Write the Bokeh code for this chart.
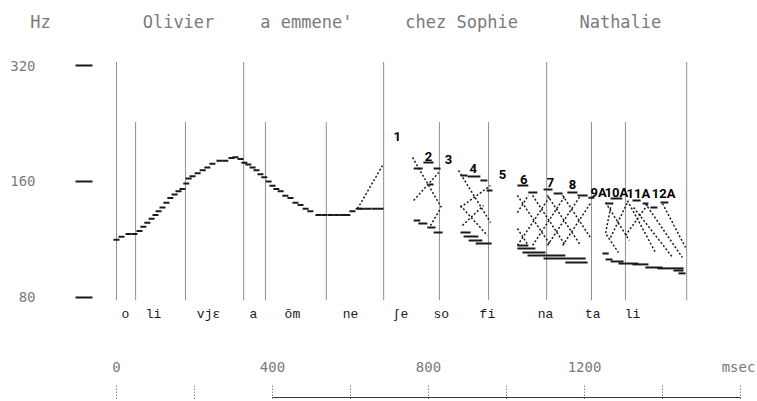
from bokeh.plotting import figure
from bokeh.models import Range1d, FixedTicker, PrintfTickFormatter
from bokeh.core.properties import value
from bokeh.embed import file_html
from bokeh.resources import INLINE

# ---------------- data (time in ms, frequency in Hz) ----------------
freq_ticks = [80, 160, 320]
freq_unit = "Hz"
freq_unit_t = -195

contour_t = [0, 13, 31, 46, 59, 69, 79, 90, 100, 108, 118, 128, 138, 149, 159,
             169, 179, 185, 195, 208, 221, 233, 246, 264, 279, 295, 305, 318,
             328, 338, 349, 359, 369, 379, 390, 400, 410, 421, 433, 446, 459,
             472, 485, 497, 518, 533, 549, 564, 579, 592, 605, 621, 631, 646,
             662, 677]
contour_hz = [113, 115, 117, 117, 119, 122, 125, 128, 131, 134, 137, 141, 145,
              148, 151, 153, 158, 163, 165, 168, 171, 174, 178, 181, 181, 184,
              185, 183, 179, 177, 174, 171, 167, 164, 160, 156, 153, 151, 147,
              145, 141, 139, 136, 134, 131, 131, 131, 131, 131, 131, 134, 136,
              136, 136, 136, 136]

rise_t = [618, 682]
rise_hz = [136, 176]

word_bounds = [0, 326, 685, 1103, 1462]
syll_bounds = [49, 177, 382, 538, 828, 954, 1218, 1305]

words = ["Olivier", "a emmene'", "chez Sophie", "Nathalie"]
word_t = [159, 487, 885, 1292]

syllables = ["o", "li", "vjɛ", "a", "õm", "ne", "ʃe", "so", "fi", "na", "ta", "li"]
syllable_t = [23, 95, 236, 351, 451, 600, 728, 833, 951, 1100, 1221, 1323]

time_ticks = [0, 400, 800, 1200]
time_labels = ["0", "400", "800", "1200"]
time_unit = "msec"
time_unit_t = 1595
ruler_ticks = [0, 200, 400, 600, 800, 1000, 1200, 1400, 1600]

pattern_names = ["1", "2", "3", "4", "5", "6", "7", "8", "9A", "10A", "11A", "12A"]
pattern_label_t = [720, 800, 851, 915, 990, 1044, 1113, 1169, 1236, 1282, 1338, 1403]
pattern_label_hz = [209.4, 185.8, 182.5, 172.9, 166.8, 161.9, 159.0, 157.2,
                    149.8, 149.8, 148.9, 148.9]

pattern_stroke_t = [
    [759, 833], [762, 826], [805, 831],
    [877, 959], [882, 959], [882, 951], [887, 941],
    [1028, 1113], [1067, 1151], [1105, 1190], [1144, 1215], [1028, 1056],
    [1028, 1113], [1067, 1151], [1105, 1190], [1144, 1215], [1028, 1056],
    [1267, 1254, 1287], [1254, 1315], [1267, 1310], [1310, 1382],
    [1305, 1364], [1356, 1451], [1400, 1459], [1326, 1426],
]
pattern_stroke_hz = [
    [184.7, 137.0], [142.8, 168.8], [123.0, 136.2],
    [170.9, 125.2], [137.0, 156.2], [138.6, 115.9], [123.0, 138.6],
    [147.2, 109.2], [147.2, 109.2], [147.2, 109.2], [147.2, 114.5], [120.8, 109.2],
    [109.2, 147.2], [109.2, 147.2], [109.2, 147.2], [109.2, 140.3], [132.9, 147.2],
    [137.0, 117.3, 104.7], [141.1, 112.5], [114.5, 141.1], [142.8, 104.7],
    [115.9, 140.3], [140.3, 101.6], [140.3, 107.9], [137.0, 101.6],
]

level_t0 = [762, 813, 787, 800, 762, 774, 797, 813,
            882, 900, 933, 949, 882, 890, 903, 921,
            1028, 1056, 1095, 1121, 1156, 1182, 1210, 1028, 1028, 1041, 1054, 1095, 1151,
            1254, 1267, 1323, 1349, 1369, 1395, 1246, 1254, 1267, 1287, 1323, 1356, 1387, 1428, 1441]
level_t1 = [785, 831, 813, 813, 779, 797, 818, 836,
            900, 933, 951, 964, 908, 928, 938, 962,
            1056, 1079, 1118, 1144, 1182, 1208, 1225, 1056, 1074, 1100, 1151, 1203, 1208,
            1274, 1297, 1344, 1364, 1387, 1415, 1262, 1272, 1300, 1338, 1364, 1400, 1454, 1454, 1459]
level_hz = [172.9, 172.9, 179.2, 157.2, 126.7, 124.4, 121.5, 118.0,
            165.8, 164.9, 161.0, 151.6, 118.0, 115.2, 112.5, 110.5,
            156.2, 149.8, 152.5, 148.9, 149.8, 147.2, 145.3, 109.2, 107.2, 104.7, 102.8, 101.0, 98.6,
            140.3, 144.5, 142.8, 140.3, 137.0, 141.1, 104.1, 100.4, 99.2, 98.0, 97.5, 95.7, 95.2, 94.0, 92.4]

# ---------------- layout constants (positions in data units) ----------------
AXIS_T = -61.5
TITLE_Y = 414
SYL_Y = 72.3
TIME_Y = 52.7
RULER_TOP, RULER_BOT, RULER_LINE = 47.3, 43.7, 44.0
BOUND_BOT, WORD_TOP, SYL_TOP = 79.0, 325.8, 227.7

GREY = "#7a7a7a"
INK = "#1a1a1a"

p = figure(width=757, height=401, y_axis_type="log", x_axis_location=None,
           x_range=Range1d(-297.4, 1643.6), y_range=Range1d(42.97, 471.9),
           output_backend="svg", toolbar_location=None,
           min_border_left=0, min_border_right=0, min_border_top=0, min_border_bottom=0)
p.grid.visible = False
p.outline_line_color = None
p.background_fill_color = "white"
p.border_fill_color = "white"

ax = p.yaxis[0]
ax.fixed_location = AXIS_T
ax.ticker = FixedTicker(ticks=freq_ticks)
ax.formatter = PrintfTickFormatter(format="%d")
ax.axis_line_color = None
ax.major_tick_out = 17
ax.major_tick_in = 0
ax.major_tick_line_width = 2
ax.major_tick_line_color = INK
ax.minor_tick_line_color = None
ax.major_label_standoff = 40
ax.major_label_text_font = "DejaVu Sans Mono"
ax.major_label_text_font_size = "14px"
ax.major_label_text_color = GREY

# segment boundaries (dotted verticals)
p.segment(x0=word_bounds, x1=word_bounds, y0=[BOUND_BOT] * len(word_bounds),
          y1=[WORD_TOP] * len(word_bounds), line_color="#222222", line_width=1,
          line_dash="1 1")
p.segment(x0=syll_bounds, x1=syll_bounds, y0=[BOUND_BOT] * len(syll_bounds),
          y1=[SYL_TOP] * len(syll_bounds), line_color="#222222", line_width=1,
          line_dash="1 1")

# main F0 contour
p.scatter(contour_t, contour_hz, marker="dash", size=6, line_width=2, line_color=INK)
p.line(rise_t, rise_hz, line_color=INK, line_width=1.5, line_dash="2 2")

# pattern strokes
p.multi_line(xs=pattern_stroke_t, ys=pattern_stroke_hz, line_color=INK,
             line_width=1.5, line_dash="2 2")
p.segment(x0=level_t0, x1=level_t1, y0=level_hz, y1=level_hz, line_color=INK, line_width=2)
p.text(x=pattern_label_t, y=pattern_label_hz, text=pattern_names,
       text_font=value("Roboto"), text_font_style="bold",
       text_font_size=value("13px"), text_color="black",
       text_align="center", text_baseline="middle")

# title words and unit
p.text(x=word_t + [freq_unit_t], y=[TITLE_Y] * (len(words) + 1), text=words + [freq_unit],
       text_font=value("DejaVu Sans Mono"), text_font_size=value("17px"),
       text_color=GREY, text_align="center", text_baseline="middle")

# syllable labels
p.text(x=syllable_t, y=[SYL_Y] * len(syllables), text=syllables,
       text_font=value("Liberation Mono"), text_font_size=value("13px"),
       text_color=INK, text_align="center", text_baseline="middle")

# time scale labels and ruler
p.text(x=time_ticks + [time_unit_t], y=[TIME_Y] * (len(time_ticks) + 1),
       text=time_labels + [time_unit],
       text_font=value("DejaVu Sans Mono"), text_font_size=value("14px"),
       text_color=GREY, text_align="center", text_baseline="middle")
p.segment(x0=ruler_ticks, x1=ruler_ticks, y0=[RULER_BOT] * len(ruler_ticks),
          y1=[RULER_TOP] * len(ruler_ticks), line_color="#444444", line_width=1,
          line_dash="1 2")
p.segment(x0=[ruler_ticks[2]], x1=[ruler_ticks[-1]], y0=[RULER_LINE], y1=[RULER_LINE],
          line_color="#333333", line_width=1)

open("out.html", "w").write(file_html(p, INLINE))
